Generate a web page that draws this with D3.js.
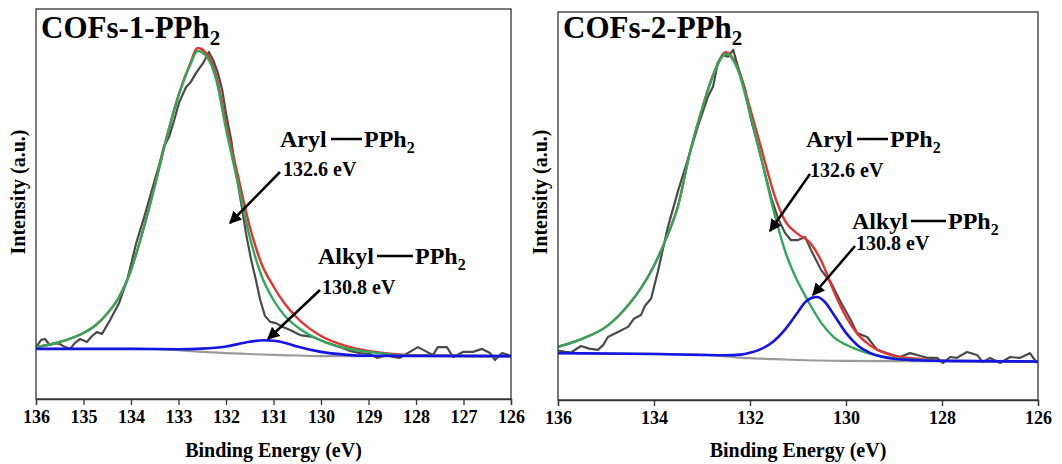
<!DOCTYPE html>
<html>
<head>
<meta charset="utf-8">
<script src="https://d3js.org/d3.v7.min.js"></script>
<style>
  body { margin: 0; background: #fff; }
  svg text { font-family: "Liberation Serif", "Times New Roman", Times, "DejaVu Serif", serif; font-weight: bold; fill: #000; }
</style>
</head>
<body>
<svg width="1062" height="464"></svg>
<script>
const svg = d3.select("svg");

// ---- dados: [energia (eV), intensidade (u.a.)] ----
const cof1Raw = [[136,17.3],[135.89,19.7],[135.81,20],[135.71,18],[135.6,18.7],[135.49,18.3],[135.39,17.3],[135.28,16.7],
  [135.18,18.7],[135.07,20],[134.93,19],[134.82,21],[134.72,22.3],[134.61,21.7],[134.44,26.3],[134.25,32],[134.08,39.7],
  [133.89,52],[133.71,61.3],[133.54,70.7],[133.39,79],[133.31,84],[133.2,87.3],[133.09,93],[132.99,98.7],[132.84,104],
  [132.74,105.7],[132.63,108.7],[132.48,112],[132.36,115.7],[132.27,113],[132.17,108.7],[132.08,103],[132,95.3],
  [131.89,86.3],[131.79,75.3],[131.68,65.3],[131.58,55.3],[131.47,46.3],[131.37,39.7],[131.28,33],[131.18,27.7],
  [131.07,25.7],[130.95,25.3],[130.8,24],[130.65,23],[130.44,21.3],[130.17,20.7],[130.02,19.7],[129.87,18.7],
  [129.6,17.3],[129.39,16],[129.18,15.3],[128.97,15],[128.82,13.7],[128.61,14.7],[128.48,14],[128.34,13.7],
  [128.13,15.7],[127.96,17.3],[127.77,15.7],[127.64,14.7],[127.54,17.3],[127.35,17.3],[127.22,14],[127.01,15.7],
  [126.8,15.7],[126.61,16.7],[126.44,15.3],[126.34,13],[126.19,15.3],[126.06,14.7],[126,14.3]];
const cof1Envelope = [[136,17.3],[135.5,19],[135,22],[134.75,24.5],[134.5,28.5],[134.25,34],[134,43],[133.75,56],
  [133.5,71],[133.25,87.2],[133,101.3],[132.75,112],[132.6,117],[132.4,115],[132.2,107.5],[132,92],[131.75,74.5],
  [131.5,57.5],[131.25,45],[131,37.5],[130.75,31.5],[130.5,27],[130,21],[129.5,17.8],[129,16],[128.5,15],[128,14.5],[126,14.3]];
const cof1Aryl = [[136,17.3],[135.5,19],[135,22],[134.75,24.5],[134.5,28.5],[134.25,34],[134,43],[133.75,56],
  [133.5,71],[133.25,87],[133,101],[132.75,111.5],[132.6,116],[132.4,114],[132.2,106],[132,90],[131.75,72],
  [131.5,54],[131.25,41],[131,33],[130.75,27.5],[130.5,24],[130,19.5],[129.5,17],[129,15.7],[128.5,14.8],[128,14.4],[126,14.3]];
const cof1Alkyl = [[136,16.7],[134,16.7],[133,16.6],[132.5,16.8],[132,17.5],[131.5,19.1],[131.2,19.6],[131,19.4],
  [130.75,18.7],[130.5,17.5],[130,15.7],[129.5,14.8],[129,14.4],[126,14.3]];
const cof1Background = [[136,16.7],[134,16.7],[133,16.3],[132.5,15.7],[132,15.3],[131.5,15],[131,14.7],[130.5,14.5],
  [130,14.3],[126,14.3]];

const cof2Raw = [[136,16.6],[135.85,16.1],[135.73,15.9],[135.52,18.1],[135.35,17.2],[135.17,16.8],[135.06,18.4],
  [134.96,21.1],[134.75,22.8],[134.54,24.5],[134.42,27.2],[134.27,28.5],[134.19,31.5],[134.06,34],[133.92,43],
  [133.71,58],[133.5,70],[133.23,84],[133.08,92],[132.88,101.5],[132.77,105],[132.67,113],[132.56,115.6],[132.46,115],
  [132.35,117.3],[132.25,111.6],[132.1,104],[131.98,94],[131.83,85],[131.69,76],[131.56,68],[131.42,61],[131.27,56],
  [131.15,53.6],[131,53.6],[130.85,54.6],[130.73,50.3],[130.52,43.6],[130.31,39.2],[130.1,32.5],[129.9,26.8],
  [129.77,22.4],[129.56,21.1],[129.35,16.8],[129.15,15.7],[128.88,14.4],[128.67,15.7],[128.52,15.1],[128.31,14.1],
  [128.1,14.1],[127.98,12.4],[127.83,14.4],[127.69,14.1],[127.48,16.1],[127.27,15.1],[127.15,12.7],[127,14.1],
  [126.79,12.4],[126.58,14.4],[126.38,14.1],[126.17,15.7],[126.02,12.4]];
const cof2Envelope = [[136,17.8],[135.5,20.5],[135,24.5],[134.5,32.5],[134.25,38],[134,45],[133.75,54],[133.5,65],
  [133.25,83],[133,97.5],[132.75,109.7],[132.5,116.5],[132.25,111],[132,97.8],[131.75,83.4],[131.5,69.1],[131.25,59.5],
  [131,55.6],[130.75,52.7],[130.5,46.1],[130.25,36.3],[130,27.9],[129.75,21.9],[129.5,18.3],[129.25,16.1],[129,14.8],
  [128.5,13.8],[128,13.1],[126,12.9]];
const cof2Aryl = [[136,17.8],[135.5,20.5],[135,24.5],[134.5,32.5],[134.25,38],[134,45],[133.75,54],[133.5,65],
  [133.25,83],[133,97.5],[132.75,109.5],[132.5,116],[132.25,110.5],[132,96],[131.75,80],[131.5,63],[131.25,49],
  [131,39.5],[130.75,32],[130.5,25.5],[130.25,21],[130,18.5],[129.75,16.8],[129.5,15.5],[129,14],[128.5,13.5],
  [128,13.1],[126,12.9]];
const cof2Alkyl = [[136,15.7],[134,15.4],[133,15.1],[132.5,15],[132.2,15.2],[132,15.8],[131.75,17.2],[131.5,19.8],
  [131.25,24],[131,29.5],[130.85,32.8],[130.7,34.3],[130.6,34.5],[130.45,33],[130.25,28.5],[130,22.5],[129.75,18.2],
  [129.5,15.8],[129.25,14.5],[129,13.8],[128.5,13.3],[128,13.1],[126,12.9]];
const cof2Background = [[136,15.7],[134,15.5],[133,15.2],[132.5,14.6],[132,14],[131.5,13.7],[131,13.4],[130,13.1],
  [129,13],[126,12.9]];

const ticks1 = [136, 135, 134, 133, 132, 131, 130, 129, 128, 127, 126];
const ticks2 = [136, 134, 132, 130, 128, 126];
const energyDomain = [136, 126];
const intensityDomain = [0, 130];

const cores = { raw: "#4a4a4a", bg: "#9a9a9a", envelope: "#e8302c", aryl: "#2fa85c", alkyl: "#1414e6" };

// marcador da seta
svg.append("defs").append("marker")
    .attr("id", "seta")
    .attr("viewBox", "0 0 10 10")
    .attr("refX", 9).attr("refY", 5)
    .attr("markerWidth", 5).attr("markerHeight", 5)
    .attr("orient", "auto-start-reverse")
  .append("path")
    .attr("d", "M0,0 L10,5 L0,10 z")
    .attr("fill", "#000");

function rotuloPPh(g, x, y, nome, xLigA, xLigB, xPPh) {
  g.append("text").attr("x", x).attr("y", y).attr("font-size", 24).text(nome);
  g.append("line")
      .attr("x1", xLigA).attr("x2", xLigB)
      .attr("y1", y - 8).attr("y2", y - 8)
      .attr("stroke", "#000").attr("stroke-width", 2.5);
  const t = g.append("text").attr("x", xPPh).attr("y", y).attr("font-size", 24);
  t.append("tspan").text("PPh");
  t.append("tspan").attr("font-size", 16).attr("dy", 6).text("2");
}

function seta(g, x1, y1, x2, y2) {
  g.append("line")
      .attr("x1", x1).attr("y1", y1).attr("x2", x2).attr("y2", y2)
      .attr("stroke", "#000").attr("stroke-width", 2.5)
      .attr("marker-end", "url(#seta)");
}

function painel(cfg) {
  const x = d3.scaleLinear().domain(energyDomain).range([cfg.left, cfg.right]);
  const y = d3.scaleLinear().domain(intensityDomain).range([cfg.bottom, cfg.top]);
  const g = svg.append("g");

  g.append("clipPath").attr("id", "clip" + cfg.id)
    .append("rect")
      .attr("x", cfg.left).attr("y", cfg.top)
      .attr("width", cfg.right - cfg.left).attr("height", cfg.bottom - cfg.top);

  const linha = d3.line().x(d => x(d[0])).y(d => y(d[1]));
  const suave = d3.line().x(d => x(d[0])).y(d => y(d[1])).curve(d3.curveMonotoneX);

  const curvas = g.append("g").attr("clip-path", `url(#clip${cfg.id})`);
  const series = [
    { dados: cfg.bg, cor: cores.bg, w: 2.2, gen: suave },
    { dados: cfg.raw, cor: cores.raw, w: 2.2, gen: linha },
    { dados: cfg.envelope, cor: cores.envelope, w: 2.4, gen: suave },
    { dados: cfg.aryl, cor: cores.aryl, w: 2.4, gen: suave },
    { dados: cfg.alkyl, cor: cores.alkyl, w: 2.6, gen: suave }
  ];
  series.forEach(s => {
    curvas.append("path")
        .attr("d", s.gen(s.dados))
        .attr("fill", "none")
        .attr("stroke", s.cor)
        .attr("stroke-width", s.w)
        .attr("stroke-linejoin", "round");
  });

  // moldura
  g.append("rect")
      .attr("x", cfg.left).attr("y", cfg.top)
      .attr("width", cfg.right - cfg.left).attr("height", cfg.bottom - cfg.top)
      .attr("fill", "none").attr("stroke", "#333").attr("stroke-width", 1.3);

  const eixo = g.append("g")
      .attr("transform", `translate(0,${cfg.bottom})`)
      .call(d3.axisBottom(x).tickValues(cfg.ticks).tickSize(6).tickPadding(5).tickFormat(d3.format("d")));
  eixo.attr("font-family", null);
  eixo.select(".domain").attr("stroke", "#333").attr("stroke-width", 1.3);
  eixo.selectAll(".tick line").attr("stroke", "#333").attr("stroke-width", 1.3);
  eixo.selectAll(".tick text")
      .attr("font-size", 18)
      .attr("fill", "#000");

  g.append("text")
      .attr("x", (cfg.left + cfg.right) / 2).attr("y", 457)
      .attr("text-anchor", "middle").attr("font-size", 20)
      .text("Binding Energy (eV)");

  g.append("text")
      .attr("transform", `translate(${cfg.left - 11},192) rotate(-90)`)
      .attr("text-anchor", "middle").attr("font-size", 20)
      .text("Intensity (a.u.)");

  const titulo = g.append("text")
      .attr("x", cfg.left + 5).attr("y", 38).attr("font-size", 31);
  titulo.append("tspan").text(cfg.titulo);
  titulo.append("tspan").attr("font-size", 21).attr("dy", 7).text("2");

  return g;
}

const g1 = painel({ id: 1, left: 36, right: 511, top: 9, bottom: 399, ticks: ticks1, titulo: "COFs-1-PPh",
  raw: cof1Raw, envelope: cof1Envelope, aryl: cof1Aryl, alkyl: cof1Alkyl, bg: cof1Background });
rotuloPPh(g1, 280, 147, "Aryl", 331, 362, 364);
g1.append("text").attr("x", 283).attr("y", 176).attr("font-size", 20).text("132.6 eV");
seta(g1, 280, 172, 230, 223);
rotuloPPh(g1, 318, 264, "Alkyl", 377, 413, 415);
g1.append("text").attr("x", 322).attr("y", 294).attr("font-size", 20).text("130.8 eV");
seta(g1, 320, 290, 268, 339);

const g2 = painel({ id: 2, left: 558, right: 1038, top: 12, bottom: 400, ticks: ticks2, titulo: "COFs-2-PPh",
  raw: cof2Raw, envelope: cof2Envelope, aryl: cof2Aryl, alkyl: cof2Alkyl, bg: cof2Background });
rotuloPPh(g2, 806, 147, "Aryl", 857, 888, 890);
g2.append("text").attr("x", 810).attr("y", 177).attr("font-size", 20).text("132.6 eV");
seta(g2, 810, 174, 770, 231);
rotuloPPh(g2, 852, 229, "Alkyl", 911, 946, 948);
g2.append("text").attr("x", 856).attr("y", 250).attr("font-size", 20).text("130.8 eV");
seta(g2, 855, 246, 813, 295);
</script>
</body>
</html>
